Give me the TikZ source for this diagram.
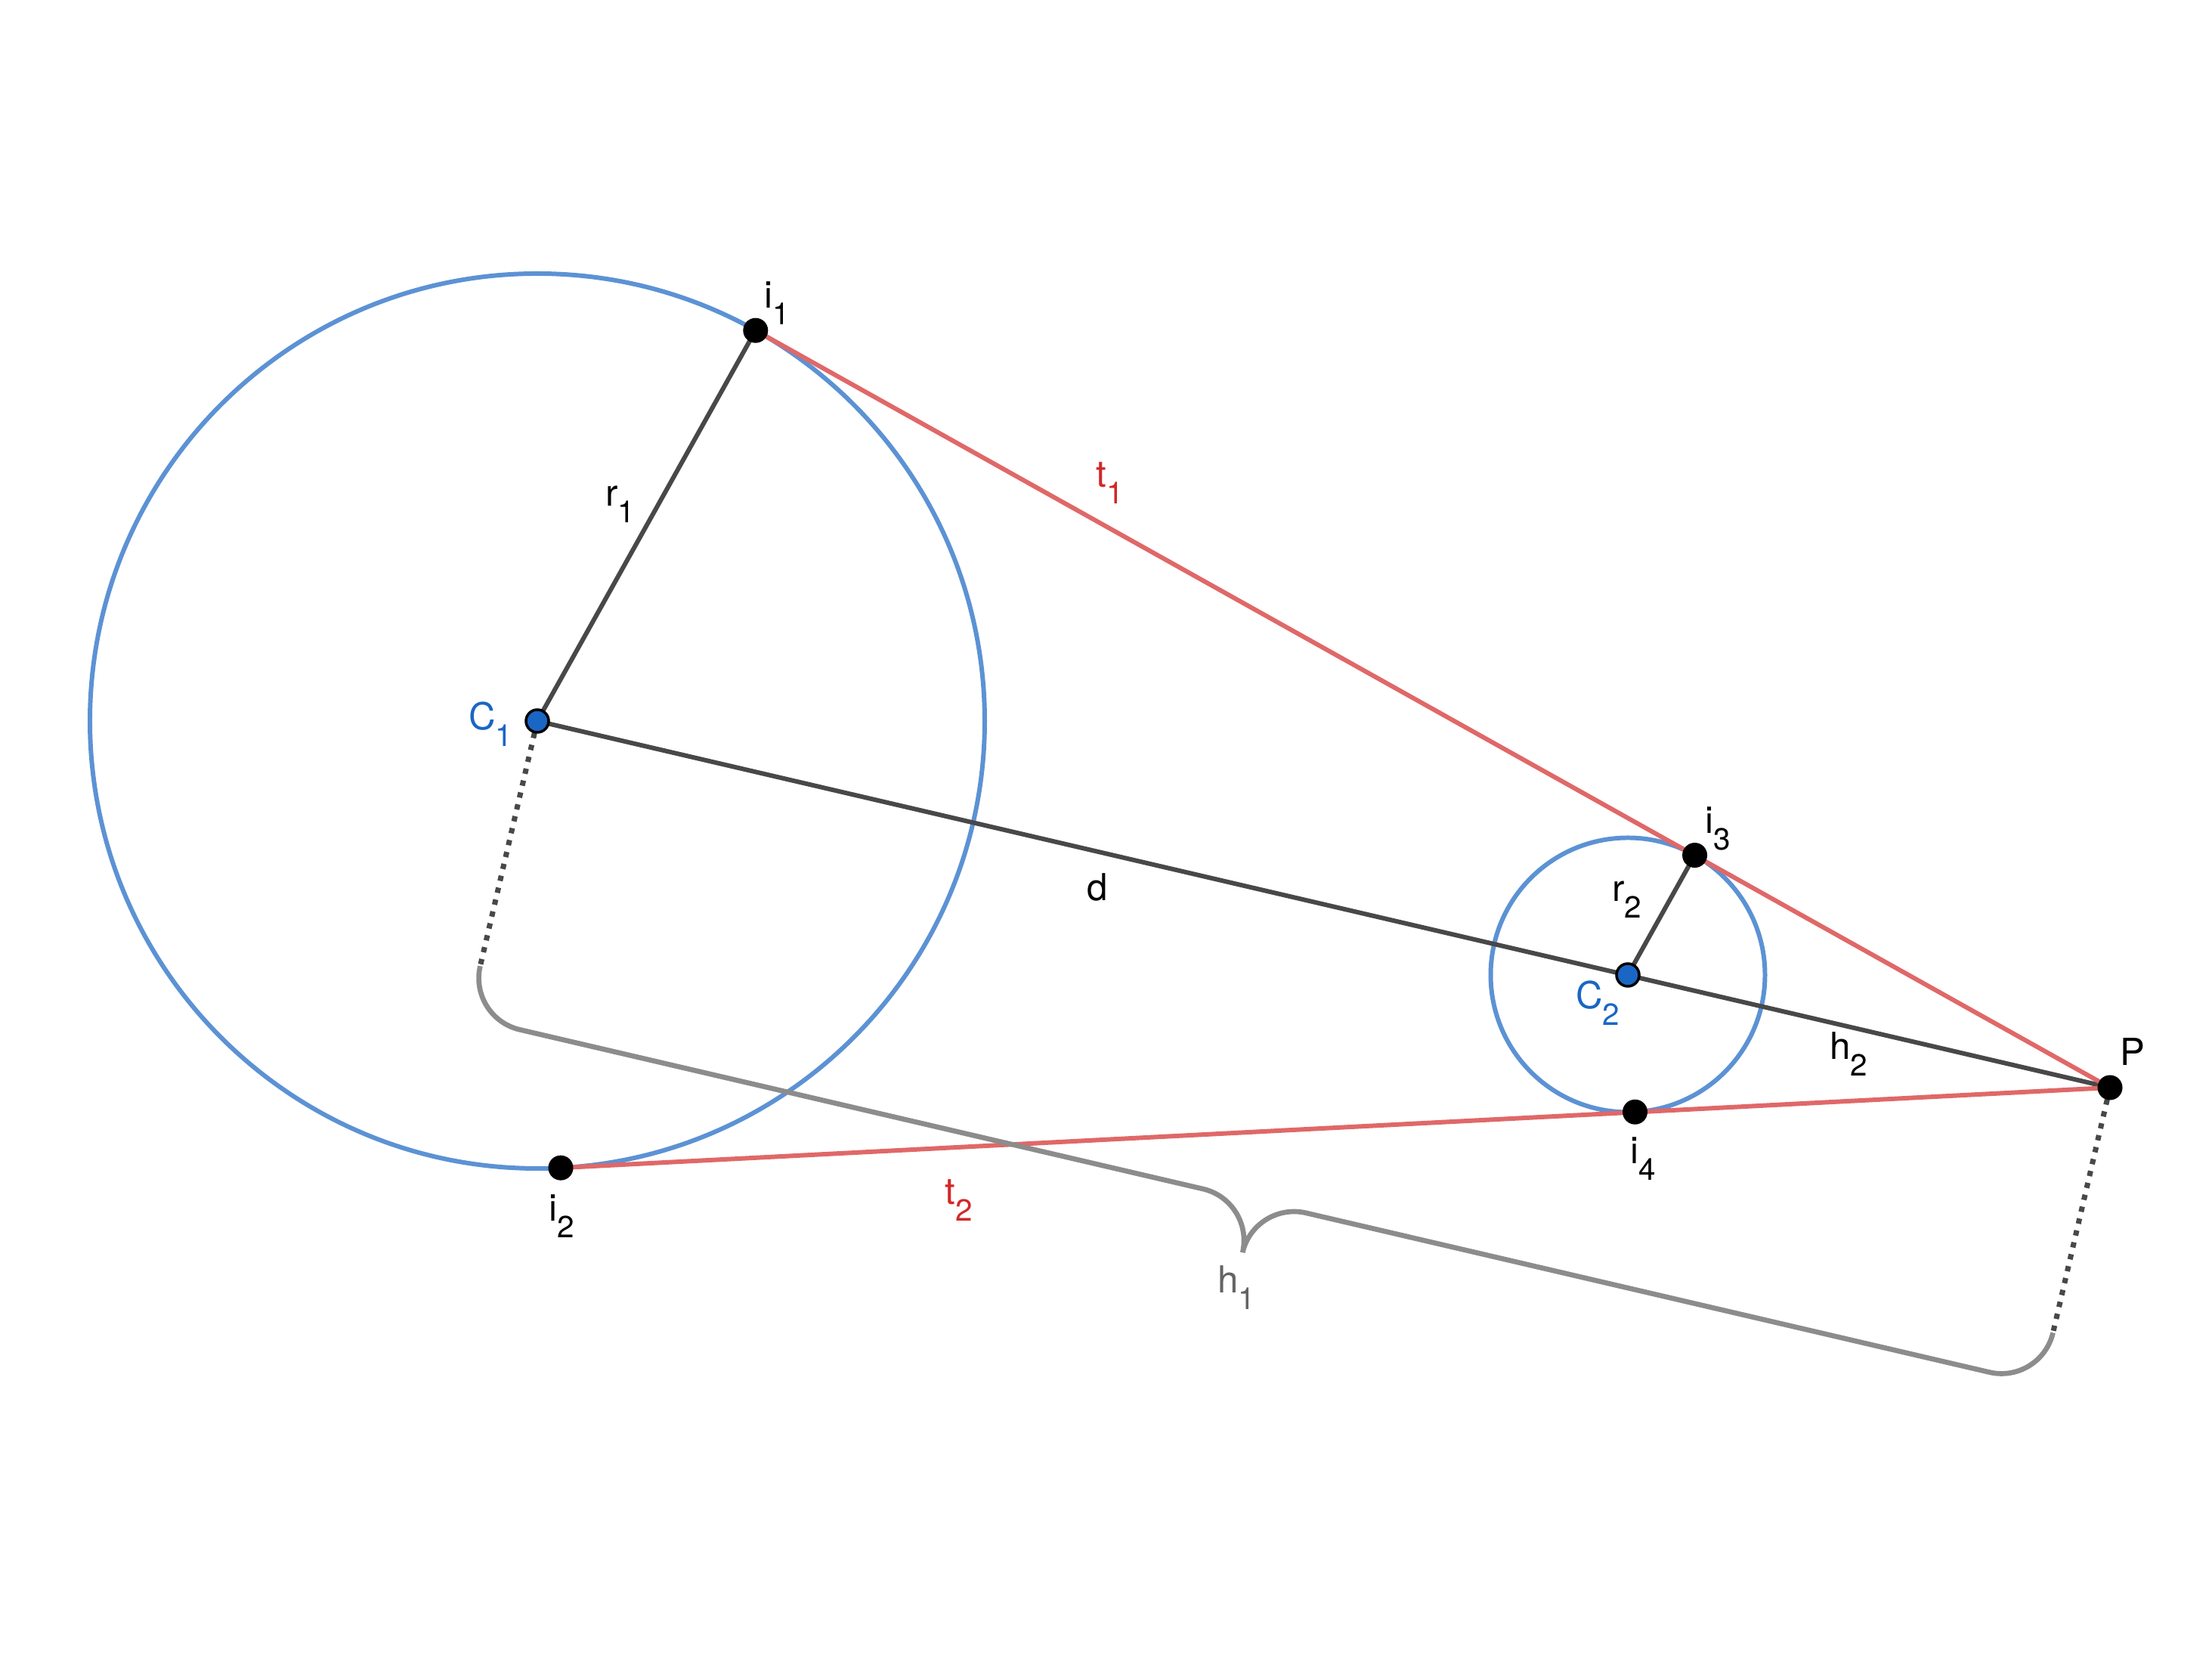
\documentclass[tikz,border=0pt]{standalone}
\usepackage{fontspec}
\setmainfont{TeX Gyre Heros}
\usepackage{tikz}
\usetikzlibrary{calc}

\definecolor{ringblue}{RGB}{92,146,212}
\definecolor{centreblue}{RGB}{26,102,196}
\definecolor{tanred}{RGB}{224,104,104}
\definecolor{tagred}{RGB}{210,40,40}
\definecolor{segdark}{RGB}{72,72,72}
\definecolor{bracegrey}{RGB}{140,140,140}
\definecolor{taggrey}{RGB}{100,100,100}

\newcommand{\lbl}[2]{#1\raisebox{-6pt}{\fontsize{11.5}{12}\selectfont #2}}

\tikzset{
    circ/.style={draw=ringblue, line width=1.7pt},
    seg/.style={draw=segdark, line width=1.7pt},
    tanline/.style={draw=tanred, line width=1.7pt},
    dotline/.style={draw=segdark, line width=2pt, dash pattern=on 2pt off 2.6pt},
    bracepath/.style={draw=bracegrey, line width=1.9pt},
    ptdot/.style={circle, fill=black, inner sep=0pt, minimum size=0.33cm},
    ctrdot/.style={circle, fill=centreblue, draw=black, line width=1pt, inner sep=0pt, minimum size=0.30cm},
    tag/.style={anchor=base, inner sep=0pt, font=\fontsize{14}{16}\selectfont}
}

\begin{document}
\begin{tikzpicture}
    \useasboundingbox (0,0) rectangle (29.27,21.95);

    % centres, tangent points and the outer point
    \coordinate (C1) at (7.11,12.41);
    \coordinate (C2) at (21.54,9.05);
    \coordinate (P) at (27.92,7.56);
    \coordinate (i1) at ($(C1)+(60.8:5.92)$);
    \coordinate (i2) at ($(C1)+(-87:5.92)$);
    \coordinate (i3) at ($(C2)+(60.8:1.815)$);
    \coordinate (i4) at ($(C2)+(-87:1.815)$);

    % circles
    \draw[circ] (C1) circle[radius=5.92];
    \draw[circ] (C2) circle[radius=1.815];

    % radii and centre line
    \draw[seg] (C1) -- (i1);
    \draw[seg] (C2) -- (i3);
    \draw[seg] (C1) -- (P);

    % tangents
    \draw[tanline] (i1) -- (P);
    \draw[tanline] (i2) -- (P);

    % brace for h1
    \begin{scope}[shift={(C1)}, rotate=-13.12]
        \coordinate (b1) at (0,-3.33);
        \coordinate (b2) at (21.37,-3.33);
        \draw[bracepath] (b1) arc[start angle=180, end angle=270, radius=0.7]
            -- (9.985,-4.03) arc[start angle=90, end angle=0, radius=0.7]
            arc[start angle=180, end angle=90, radius=0.7]
            -- (20.67,-4.03) arc[start angle=270, end angle=360, radius=0.7];
    \end{scope}
    \draw[dotline] (C1) -- (b1);
    \draw[dotline] (P) -- (b2);

    % points
    \node[ptdot] (di1) at (i1) {};
    \node[ptdot] (di2) at (i2) {};
    \node[ptdot] (di3) at (i3) {};
    \node[ptdot] (di4) at (i4) {};
    \node[ptdot] (dP) at (P) {};
    \node[ctrdot] (dC1) at (C1) {};
    \node[ctrdot] (dC2) at (C2) {};

    % labels
    \node[tag] (li1) at (10.28,17.87) {\lbl{i}{1}};
    \node[tag] (lr1) at (8.205,15.25) {\lbl{r}{1}};
    \node[tag, text=tagred] (lt1) at (14.69,15.50) {\lbl{t}{1}};
    \node[tag, text=centreblue] (lC1) at (6.49,12.29) {\lbl{C}{1}};
    \node[tag] (ld) at (14.52,10.03) {d};
    \node[tag] (li3) at (22.73,10.92) {\lbl{i}{3}};
    \node[tag] (lr2) at (21.53,10.02) {\lbl{r}{2}};
    \node[tag, text=centreblue] (lC2) at (21.14,8.60) {\lbl{C}{2}};
    \node[tag] (lh2) at (24.46,7.93) {\lbl{h}{2}};
    \node[tag] (lP) at (28.22,7.85) {P};
    \node[tag] (li4) at (21.74,6.55) {\lbl{i}{4}};
    \node[tag] (li2) at (7.43,5.79) {\lbl{i}{2}};
    \node[tag, text=tagred] (lt2) at (12.69,6.01) {\lbl{t}{2}};
    \node[tag, text=taggrey] (lh1) at (16.36,4.84) {\lbl{h}{1}};
\end{tikzpicture}
\end{document}
